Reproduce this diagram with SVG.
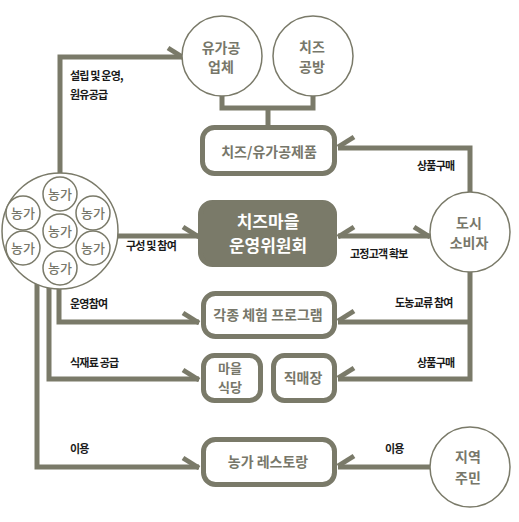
<svg xmlns="http://www.w3.org/2000/svg" width="519" height="522" viewBox="0 0 519 522">
<style>
.ln{fill:none;stroke:#7a7a69;stroke-width:5;stroke-linejoin:miter}
.bb{stroke:#7a7a69;stroke-width:5;stroke-linecap:butt}
.cir{fill:#fff;stroke:#7a7a69;stroke-width:1.5}
.box{fill:#fff;stroke:#7a7a69;stroke-width:5}
.dark{fill:#7a7a69;stroke:#7a7a69;stroke-width:5}
.nt{font-family:"Noto Sans CJK KR","Noto Sans",sans-serif;font-size:14px;font-weight:700;fill:#77776a;text-anchor:middle}
.sm{font-size:13px}
.wt{font-family:"Noto Sans CJK KR","Noto Sans",sans-serif;font-size:17px;font-weight:700;fill:#fff;text-anchor:middle}
.ft{font-family:"Noto Sans CJK KR","Noto Sans",sans-serif;font-size:13px;font-weight:500;fill:#77776a;text-anchor:middle}
.lb{font-family:"Noto Sans CJK KR","Noto Sans",sans-serif;font-size:11px;font-weight:700;fill:#1a1a1a;letter-spacing:-0.8px}
</style>
<rect width="519" height="522" fill="#fff"/>
<g id="connectors">
<path class="ln" d="M60,180 V57 H184"/>
<line class="bb" x1="184" y1="58" x2="168" y2="48"/>
<path class="ln" d="M222,96 V108 H313 V96"/>
<path class="ln" d="M268,108 V126"/>
<path class="ln" d="M470,192 V148 H338"/>
<line class="bb" x1="338" y1="147" x2="354" y2="137"/>
<path class="ln" d="M115,236 H199"/>
<line class="bb" x1="199" y1="237" x2="183" y2="227"/>
<path class="ln" d="M338,236 H430"/>
<line class="bb" x1="338" y1="237" x2="354" y2="227"/>
<line class="bb" x1="430" y1="237" x2="414" y2="227"/>
<path class="ln" d="M470,272 V379 H338"/>
<path class="ln" d="M470,322 H338"/>
<line class="bb" x1="338" y1="321" x2="354" y2="311"/>
<line class="bb" x1="338" y1="378" x2="354" y2="368"/>
<path class="ln" d="M59,280 V322 H199"/>
<line class="bb" x1="199" y1="323" x2="183" y2="313"/>
<path class="ln" d="M49,280 V379 H199"/>
<line class="bb" x1="199" y1="380" x2="183" y2="370"/>
<path class="ln" d="M37,280 V467 H199"/>
<line class="bb" x1="199" y1="468" x2="183" y2="458"/>
<path class="ln" d="M430,467 H338"/>
<line class="bb" x1="338" y1="466" x2="354" y2="456"/>
</g>
<g id="labels">
<text class="lb" x="70" y="80">설립 및 운영,</text>
<text class="lb" x="70" y="99">원유공급</text>
<text class="lb" x="126" y="250">구성 및 참여</text>
<text class="lb" x="70" y="308">운영참여</text>
<text class="lb" x="70" y="367">식재료 공급</text>
<text class="lb" x="70" y="453">이용</text>
<text class="lb" x="417" y="170">상품구매</text>
<text class="lb" x="350" y="258">고정고객 확보</text>
<text class="lb" x="395" y="307">도농교류 참여</text>
<text class="lb" x="417" y="367">상품구매</text>
<text class="lb" x="385" y="453">이용</text>
</g>
<g id="farms">
<circle class="cir" cx="60" cy="231" r="58"/>
<circle class="cir" cx="60" cy="194" r="17"/><text class="ft" x="60" y="199">농가</text>
<circle class="cir" cx="23" cy="213" r="17"/><text class="ft" x="23" y="218">농가</text>
<circle class="cir" cx="93" cy="213" r="17"/><text class="ft" x="93" y="218">농가</text>
<circle class="cir" cx="60" cy="231" r="17"/><text class="ft" x="60" y="236">농가</text>
<circle class="cir" cx="23" cy="248" r="17"/><text class="ft" x="23" y="253">농가</text>
<circle class="cir" cx="93" cy="248" r="17"/><text class="ft" x="93" y="253">농가</text>
<circle class="cir" cx="60" cy="268" r="17"/><text class="ft" x="60" y="273">농가</text>
</g>
<g id="dairy">
<circle class="cir" cx="222" cy="56" r="40"/>
<text class="nt" x="221" y="53">유가공</text><text class="nt" x="221" y="72">업체</text>
</g>
<g id="cheese-studio">
<circle class="cir" cx="313" cy="56" r="40"/>
<text class="nt" x="312" y="52">치즈</text><text class="nt" x="312" y="72">공방</text>
</g>
<g id="products">
<rect class="box" x="202.5" y="127.5" width="132" height="46" rx="12"/>
<text class="nt" x="269" y="157">치즈/유가공제품</text>
</g>
<g id="committee">
<rect class="dark" x="200.5" y="202.5" width="134" height="62" rx="12"/>
<text class="wt" x="268" y="228">치즈마을</text>
<text class="wt" x="268" y="252">운영위원회</text>
</g>
<g id="programs">
<rect class="box" x="203.5" y="293.5" width="131" height="43" rx="12"/>
<text class="nt" x="268" y="320">각종 체험 프로그램</text>
</g>
<g id="restaurant">
<rect class="box" x="203.5" y="355.5" width="57" height="45" rx="11"/>
<text class="nt sm" x="230" y="373">마을</text><text class="nt sm" x="230" y="392">식당</text>
</g>
<g id="direct-store">
<rect class="box" x="273.5" y="355.5" width="61" height="45" rx="11"/>
<text class="nt" x="303" y="383">직매장</text>
</g>
<g id="farm-restaurant">
<rect class="box" x="203.5" y="439.5" width="131" height="45" rx="12"/>
<text class="nt" x="268" y="467">농가 레스토랑</text>
</g>
<g id="consumer">
<circle class="cir" cx="470" cy="232" r="40"/>
<text class="nt" x="469" y="228">도시</text><text class="nt" x="469" y="248">소비자</text>
</g>
<g id="residents">
<circle class="cir" cx="470" cy="467" r="40"/>
<text class="nt" x="468" y="462">지역</text><text class="nt" x="468" y="483">주민</text>
</g>
</svg>
